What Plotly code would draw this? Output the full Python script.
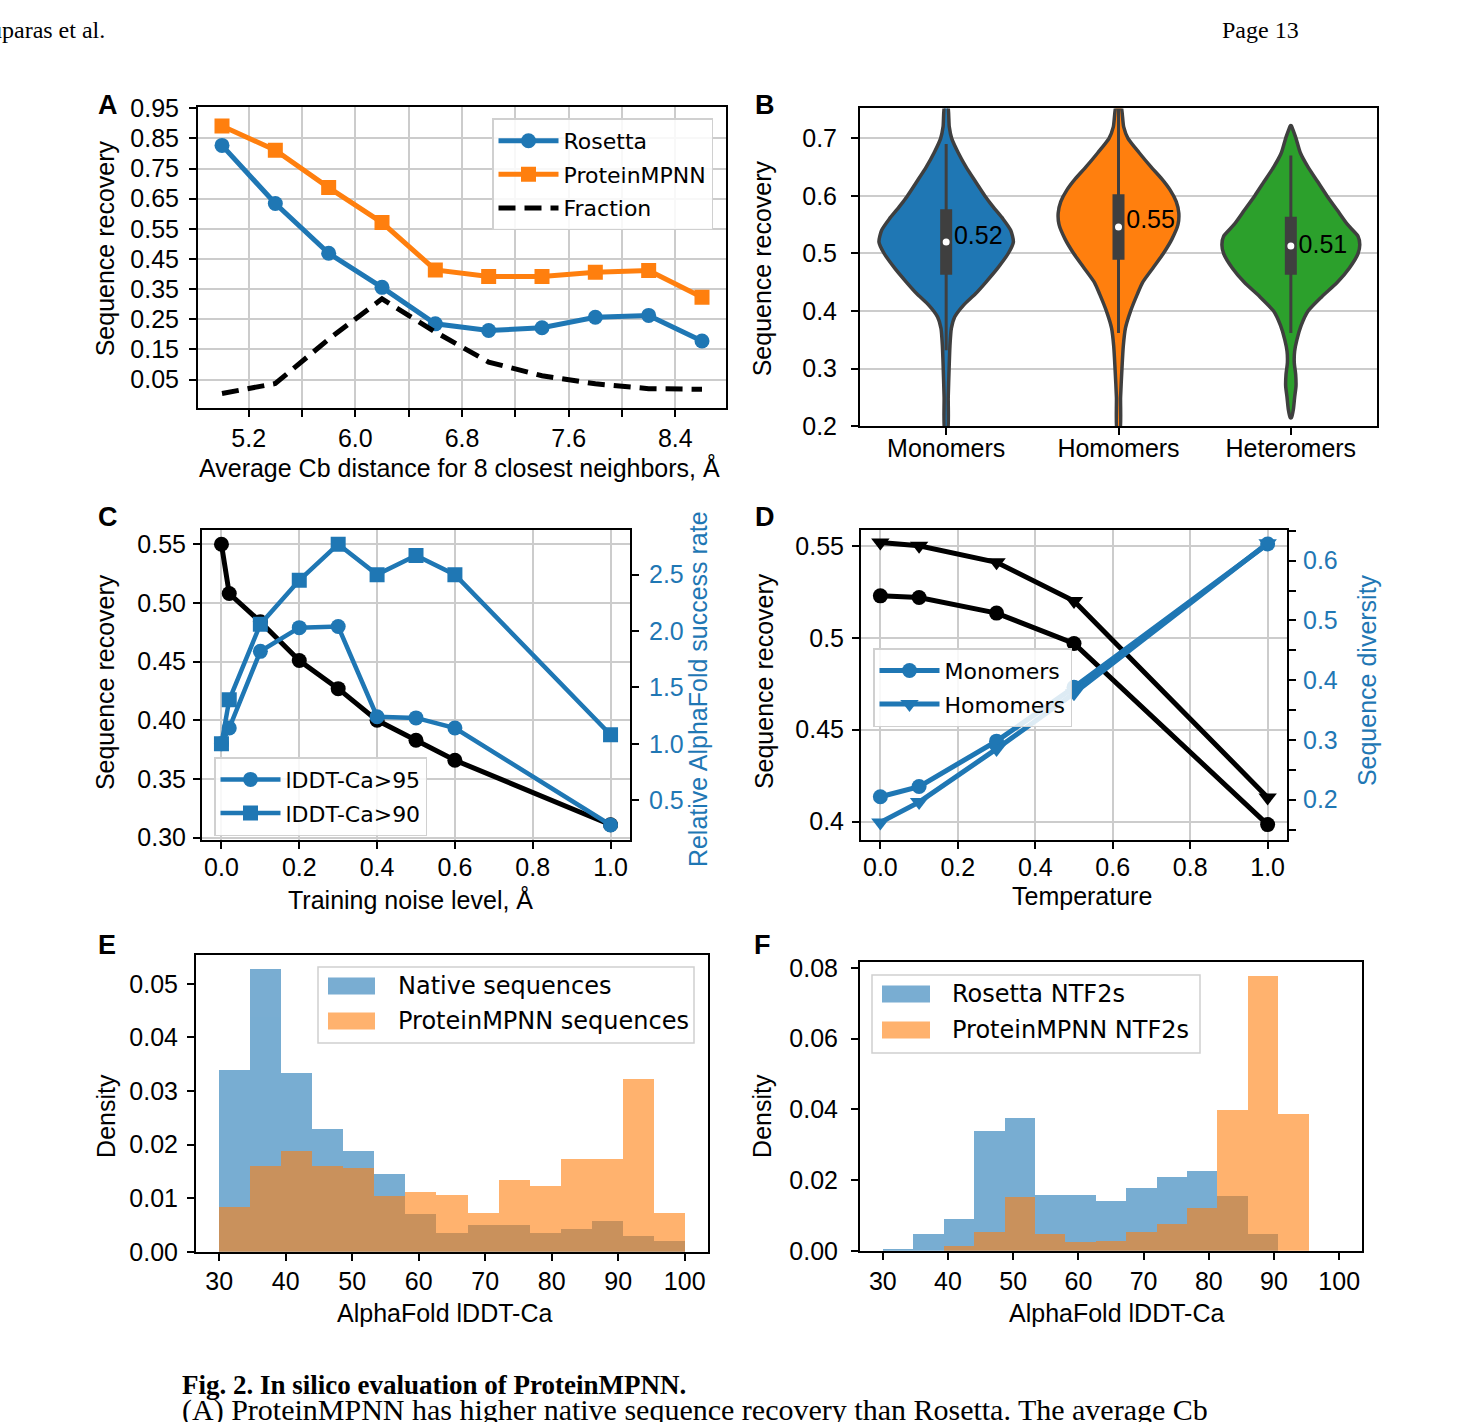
import plotly.graph_objects as go

W, H = 1476, 1422
FONT = "Liberation Sans, Arial, sans-serif"
LEGFONT = "DejaVu Sans, Verdana, sans-serif"
SERIF = "Liberation Serif, Times New Roman, serif"
BLUE = "#1f77b4"
ORANGE = "#ff7f0e"
GREEN = "#2ca02c"
GRID = "#cccccc"

# ---------------- Panel A data ----------------
cb_distance = [5.0, 5.4, 5.8, 6.2, 6.6, 7.0, 7.4, 7.8, 8.2, 8.6]
rosetta_rec = [0.827, 0.634, 0.469, 0.356, 0.235, 0.213, 0.222, 0.257, 0.263, 0.178]
mpnn_rec = [0.891, 0.811, 0.687, 0.571, 0.414, 0.392, 0.392, 0.406, 0.412, 0.323]
fraction = [0.004, 0.037, 0.184, 0.318, 0.208, 0.108, 0.063, 0.036, 0.020, 0.018]
a_xticks = [5.2, 5.6, 6.0, 6.4, 6.8, 7.2, 7.6, 8.0, 8.4]
a_xlabels = ["5.2", "", "6.0", "", "6.8", "", "7.6", "", "8.4"]
a_yticks = [0.05, 0.15, 0.25, 0.35, 0.45, 0.55, 0.65, 0.75, 0.85, 0.95]

# ---------------- Panel B data (violin outlines) ----------------
groups = ["Monomers", "Homomers", "Heteromers"]
group_colors = [BLUE, ORANGE, GREEN]
mono_y = [0.19, 0.25, 0.30, 0.34, 0.37, 0.39, 0.41, 0.43, 0.45, 0.475, 0.50, 0.52, 0.54, 0.56, 0.58, 0.60, 0.625, 0.65, 0.675, 0.70, 0.72, 0.76]
mono_w = [0.008, 0.012, 0.017, 0.022, 0.030, 0.050, 0.100, 0.170, 0.230, 0.300, 0.360, 0.390, 0.375, 0.330, 0.275, 0.225, 0.170, 0.116, 0.070, 0.032, 0.018, 0.008]
homo_y = [0.19, 0.25, 0.30, 0.34, 0.37, 0.40, 0.43, 0.45, 0.475, 0.50, 0.525, 0.55, 0.57, 0.59, 0.61, 0.63, 0.65, 0.675, 0.70, 0.72, 0.76]
homo_w = [0.008, 0.012, 0.020, 0.028, 0.040, 0.070, 0.110, 0.140, 0.200, 0.260, 0.310, 0.345, 0.350, 0.335, 0.300, 0.250, 0.190, 0.120, 0.055, 0.030, 0.012]
hetero_y = [0.215, 0.23, 0.25, 0.27, 0.29, 0.31, 0.33, 0.35, 0.375, 0.40, 0.425, 0.45, 0.475, 0.50, 0.515, 0.53, 0.55, 0.575, 0.60, 0.625, 0.65, 0.675, 0.70, 0.715, 0.722]
hetero_w = [0.004, 0.015, 0.022, 0.030, 0.028, 0.020, 0.022, 0.035, 0.060, 0.100, 0.180, 0.270, 0.340, 0.390, 0.400, 0.390, 0.330, 0.270, 0.210, 0.155, 0.100, 0.055, 0.030, 0.012, 0.003]
q1 = [0.463, 0.489, 0.463]
q3 = [0.577, 0.603, 0.564]
medians = [0.520, 0.546, 0.513]
whisk_lo = [0.332, 0.362, 0.362]
whisk_hi = [0.690, 0.760, 0.670]
median_labels = ["0.52", "0.55", "0.51"]
label_y = [0.527, 0.556, 0.512]

# ---------------- Panel C data ----------------
noise = [0.0, 0.02, 0.1, 0.2, 0.3, 0.4, 0.5, 0.6, 1.0]
rec_noise = [0.550, 0.508, 0.484, 0.451, 0.427, 0.400, 0.383, 0.366, 0.311]
lddt95 = [1.0, 1.14, 1.82, 2.03, 2.04, 1.24, 1.23, 1.14, 0.28]
lddt90 = [1.0, 1.39, 2.06, 2.45, 2.77, 2.50, 2.67, 2.50, 1.08]

# ---------------- Panel D data ----------------
temps = [0.0, 0.1, 0.3, 0.5, 1.0]
rec_mono = [0.5228, 0.5219, 0.5134, 0.4969, 0.3984]
rec_homo = [0.5518, 0.5500, 0.5410, 0.5200, 0.4132]
div_mono = [0.205, 0.222, 0.298, 0.388, 0.628]
div_homo = [0.162, 0.196, 0.285, 0.378, 0.629]
d_rticks = [0.15, 0.2, 0.25, 0.3, 0.35, 0.4, 0.45, 0.5, 0.55, 0.6, 0.65]
d_rlabels = ["", "0.2", "", "0.3", "", "0.4", "", "0.5", "", "0.6", ""]

# ---------------- Panel E / F data (histogram densities) ----------------
bin_edges = [30.0, 34.667, 39.333, 44.0, 48.667, 53.333, 58.0, 62.667, 67.333, 72.0, 76.667, 81.333, 86.0, 90.667, 95.333, 100.0]
native_density = [0.0339, 0.0527, 0.0333, 0.0229, 0.0188, 0.0145, 0.0070, 0.0035, 0.0050, 0.0050, 0.0035, 0.0042, 0.0057, 0.0029, 0.0020]
mpnn_density_e = [0.0084, 0.0161, 0.0189, 0.0161, 0.0157, 0.0105, 0.0111, 0.0106, 0.0072, 0.0135, 0.0123, 0.0173, 0.0173, 0.0322, 0.0073]
rosetta_ntf2 = [0.0006, 0.0048, 0.0090, 0.0340, 0.0375, 0.0159, 0.0157, 0.0140, 0.0177, 0.0210, 0.0227, 0.0154, 0.0048, 0.0, 0.0]
mpnn_ntf2 = [0.0, 0.0, 0.0014, 0.0053, 0.0151, 0.0048, 0.0026, 0.0029, 0.0053, 0.0076, 0.0121, 0.0399, 0.0778, 0.0387, 0.0]
e_names = ["Native sequences", "ProteinMPNN sequences"]
f_names = ["Rosetta NTF2s", "ProteinMPNN NTF2s"]

bin_centers = [(a + b) / 2 for a, b in zip(bin_edges[:-1], bin_edges[1:])]
bin_widths = [b - a for a, b in zip(bin_edges[:-1], bin_edges[1:])]


def px(v):
    return v / W


def ty(v):
    # reference pixel row -> layout pixel row (compensates the page capture offset)
    return 1.01885 * v - 12.79


def py(v):
    return 1 - ty(v) / H


fig = go.Figure()

# ---- A ----
fig.add_trace(go.Scatter(x=cb_distance, y=rosetta_rec, mode="lines+markers", name="Rosetta",
                         line=dict(color=BLUE, width=5), marker=dict(symbol="circle", size=15, color=BLUE),
                         xaxis="x", yaxis="y", legend="legend", legendgroup="a1"))
fig.add_trace(go.Scatter(x=cb_distance, y=mpnn_rec, mode="lines+markers", name="ProteinMPNN",
                         line=dict(color=ORANGE, width=5), marker=dict(symbol="square", size=15, color=ORANGE),
                         xaxis="x", yaxis="y", legend="legend", legendgroup="a2"))
fig.add_trace(go.Scatter(x=cb_distance, y=fraction, mode="lines", name="Fraction",
                         line=dict(color="black", width=5, dash="17px,9px"),
                         xaxis="x", yaxis="y", legend="legend", legendgroup="a3"))

# ---- B ----
profiles = [(mono_y, mono_w), (homo_y, homo_w), (hetero_y, hetero_w)]
for i, (yy, ww) in enumerate(profiles):
    xs = [i + w for w in ww] + [i - w for w in reversed(ww)] + [i + ww[0]]
    ys = list(yy) + list(reversed(yy)) + [yy[0]]
    fig.add_trace(go.Scatter(x=xs, y=ys, mode="lines", fill="toself", fillcolor=group_colors[i],
                             line=dict(color="#3f3f3f", width=3.5, shape="spline", smoothing=0.6),
                             xaxis="x2", yaxis="y2", showlegend=False, hoverinfo="skip"))
    fig.add_trace(go.Scatter(x=[i, i], y=[whisk_lo[i], whisk_hi[i]], mode="lines",
                             line=dict(color="#3f3f3f", width=3), xaxis="x2", yaxis="y2", showlegend=False))
    fig.add_trace(go.Scatter(x=[i, i], y=[q1[i], q3[i]], mode="lines",
                             line=dict(color="#3f3f3f", width=12), xaxis="x2", yaxis="y2", showlegend=False))
    fig.add_trace(go.Scatter(x=[i], y=[medians[i]], mode="markers",
                             marker=dict(color="white", size=7), xaxis="x2", yaxis="y2", showlegend=False))
    fig.add_trace(go.Scatter(x=[i + 0.045], y=[label_y[i]], mode="text", text=[median_labels[i]],
                             textposition="middle right", textfont=dict(family=FONT, size=25, color="black"),
                             xaxis="x2", yaxis="y2", showlegend=False))

# ---- C ----
fig.add_trace(go.Scatter(x=noise, y=rec_noise, mode="lines+markers", line=dict(color="black", width=5),
                         marker=dict(symbol="circle", size=15, color="black"), xaxis="x3", yaxis="y3",
                         showlegend=False))
fig.add_trace(go.Scatter(x=noise, y=lddt95, mode="lines+markers", name="lDDT-Ca>95",
                         line=dict(color=BLUE, width=4.5), marker=dict(symbol="circle", size=15, color=BLUE),
                         xaxis="x3", yaxis="y4", legend="legend2", legendgroup="c1"))
fig.add_trace(go.Scatter(x=noise, y=lddt90, mode="lines+markers", name="lDDT-Ca>90",
                         line=dict(color=BLUE, width=4.5), marker=dict(symbol="square", size=15, color=BLUE),
                         xaxis="x3", yaxis="y4", legend="legend2", legendgroup="c2"))

# ---- D ----
fig.add_trace(go.Scatter(x=temps, y=rec_mono, mode="lines+markers", line=dict(color="black", width=5),
                         marker=dict(symbol="circle", size=15, color="black"), xaxis="x4", yaxis="y5",
                         showlegend=False))
fig.add_trace(go.Scatter(x=temps, y=rec_homo, mode="lines+markers", line=dict(color="black", width=5),
                         marker=dict(symbol="triangle-down", size=16, color="black"), xaxis="x4", yaxis="y5",
                         showlegend=False))
fig.add_trace(go.Scatter(x=temps, y=div_mono, mode="lines+markers", name="Monomers",
                         line=dict(color=BLUE, width=5), marker=dict(symbol="circle", size=15, color=BLUE),
                         xaxis="x4", yaxis="y6", legend="legend3", legendgroup="d1"))
fig.add_trace(go.Scatter(x=temps, y=div_homo, mode="lines+markers", name="Homomers",
                         line=dict(color=BLUE, width=5), marker=dict(symbol="triangle-down", size=16, color=BLUE),
                         xaxis="x4", yaxis="y6", legend="legend3", legendgroup="d2"))

# ---- E ----
fig.add_trace(go.Bar(x=bin_centers, y=native_density, width=bin_widths, name=e_names[0],
                     marker=dict(color=BLUE, line=dict(width=0)), opacity=0.6,
                     xaxis="x5", yaxis="y7", showlegend=False))
fig.add_trace(go.Bar(x=bin_centers, y=mpnn_density_e, width=bin_widths, name=e_names[1],
                     marker=dict(color=ORANGE, line=dict(width=0)), opacity=0.6,
                     xaxis="x5", yaxis="y7", showlegend=False))

# ---- F ----
fig.add_trace(go.Bar(x=bin_centers, y=rosetta_ntf2, width=bin_widths, name=f_names[0],
                     marker=dict(color=BLUE, line=dict(width=0)), opacity=0.6,
                     xaxis="x6", yaxis="y8", showlegend=False))
fig.add_trace(go.Bar(x=bin_centers, y=mpnn_ntf2, width=bin_widths, name=f_names[1],
                     marker=dict(color=ORANGE, line=dict(width=0)), opacity=0.6,
                     xaxis="x6", yaxis="y8", showlegend=False))


def axis(domain, anchor, **kw):
    base = dict(domain=domain, anchor=anchor, showline=True, linecolor="black", linewidth=2, mirror=True,
                ticks="outside", ticklen=7, tickwidth=2, tickcolor="black",
                tickfont=dict(family=FONT, size=25, color="black"), zeroline=False,
                showgrid=False, gridcolor=GRID, gridwidth=1.5)
    base.update(kw)
    return base


A_X = [px(198), px(726)]
A_Y = [py(408), py(107)]
B_X = [px(860), px(1377)]
B_Y = [py(426), py(108)]
C_X = [px(202), px(630)]
CD_Y = [py(840), py(530)]
D_X = [px(861), px(1287)]
E_X = [px(196), px(708)]
E_Y = [py(1252), py(955)]
F_X = [px(860), px(1362)]
F_Y = [py(1251), py(962)]

legend_common = dict(bgcolor="rgba(255,255,255,0.85)", bordercolor="#d0d0d0", borderwidth=1.5,
                     font=dict(family=LEGFONT, size=22, color="black"), tracegroupgap=2,
                     xanchor="left", yanchor="top", itemwidth=60)

fig.update_layout(
    width=W, height=H, margin=dict(l=0, r=0, t=0, b=0), paper_bgcolor="white", plot_bgcolor="white",
    barmode="overlay", bargap=0,
    xaxis=axis(A_X, "y", range=[4.82, 8.78], tickvals=a_xticks, ticktext=a_xlabels, showgrid=True),
    yaxis=axis(A_Y, "x", range=[-0.045, 0.953], tickvals=a_yticks, ticktext=[f"{v:.2f}" for v in a_yticks],
               showgrid=True, ticklabelstandoff=5),
    xaxis2=axis(B_X, "y2", range=[-0.5, 2.5], tickvals=[0, 1, 2], ticktext=groups, ticklabelstandoff=-8),
    yaxis2=axis(B_Y, "x2", range=[0.2, 0.752], tickvals=[0.2, 0.3, 0.4, 0.5, 0.6, 0.7],
                ticktext=["0.2", "0.3", "0.4", "0.5", "0.6", "0.7"], showgrid=True, ticklabelstandoff=9),
    xaxis3=axis(C_X, "y3", range=[-0.05, 1.05], tickvals=[0, 0.2, 0.4, 0.6, 0.8, 1.0],
                ticktext=["0.0", "0.2", "0.4", "0.6", "0.8", "1.0"], showgrid=True, ticklabelstandoff=-3),
    yaxis3=axis(CD_Y, "x3", range=[0.298, 0.562], tickvals=[0.30, 0.35, 0.40, 0.45, 0.50, 0.55],
                ticktext=["0.30", "0.35", "0.40", "0.45", "0.50", "0.55"], showgrid=True, ticklabelstandoff=2),
    yaxis4=axis(CD_Y, "x3", overlaying="y3", side="right", range=[0.147, 2.894],
                tickvals=[0.5, 1.0, 1.5, 2.0, 2.5], ticktext=["0.5", "1.0", "1.5", "2.0", "2.5"],
                mirror=False, tickfont=dict(family=FONT, size=25, color=BLUE), ticklabelstandoff=5),
    xaxis4=axis(D_X, "y5", range=[-0.05, 1.05], tickvals=[0, 0.2, 0.4, 0.6, 0.8, 1.0],
                ticktext=["0.0", "0.2", "0.4", "0.6", "0.8", "1.0"], showgrid=True, ticklabelstandoff=-3),
    yaxis5=axis(CD_Y, "x4", range=[0.390, 0.5585], tickvals=[0.40, 0.45, 0.50, 0.55],
                ticktext=["0.4", "0.45", "0.5", "0.55"], showgrid=True, ticklabelstandoff=3),
    yaxis6=axis(CD_Y, "x4", overlaying="y5", side="right", range=[0.1325, 0.651],
                tickvals=d_rticks, ticktext=d_rlabels, mirror=False,
                tickfont=dict(family=FONT, size=25, color=BLUE), ticklabelstandoff=2),
    xaxis5=axis(E_X, "y7", range=[26.5, 103.5], tickvals=[30, 40, 50, 60, 70, 80, 90, 100],
                ticklabelstandoff=-1),
    yaxis7=axis(E_Y, "x5", range=[0, 0.0554], tickvals=[0, 0.01, 0.02, 0.03, 0.04, 0.05],
                ticktext=["0.00", "0.01", "0.02", "0.03", "0.04", "0.05"], ticklabelstandoff=4),
    xaxis6=axis(F_X, "y8", range=[26.5, 103.5], tickvals=[30, 40, 50, 60, 70, 80, 90, 100]),
    yaxis8=axis(F_Y, "x6", range=[0, 0.0817], tickvals=[0, 0.02, 0.04, 0.06, 0.08],
                ticktext=["0.00", "0.02", "0.04", "0.06", "0.08"], ticklabelstandoff=8),
    legend=dict(legend_common, x=px(492), y=py(118)),
    legend2=dict(legend_common, x=px(214), y=py(757)),
    legend3=dict(legend_common, x=px(873), y=py(648)),
    showlegend=True,
)


def label(text, x, y, size=25, angle=0, color="black", family=FONT, bold=False, xanchor="center"):
    if bold:
        text = f"<b>{text}</b>"
    fig.add_annotation(text=text, x=px(x), y=py(y), xref="paper", yref="paper", showarrow=False,
                       textangle=angle, xanchor=xanchor, yanchor="middle",
                       font=dict(family=family, size=size, color=color))


# histogram legends drawn as boxes with colour patches (matplotlib-style wide patches)
def patch_legend(box, rows, names, colors):
    x0, y0, x1, y1 = box
    fig.add_shape(type="rect", xref="paper", yref="paper", x0=px(x0), x1=px(x1), y0=py(y1), y1=py(y0),
                  line=dict(color="#d0d0d0", width=1.5), fillcolor="rgba(255,255,255,0.85)", layer="above")
    for (yc, px0, px1, tx), name, col in zip(rows, names, colors):
        fig.add_shape(type="rect", xref="paper", yref="paper", x0=px(px0), x1=px(px1),
                      y0=py(yc + 8.5), y1=py(yc - 8.5), line=dict(width=0), fillcolor=col, opacity=0.6,
                      layer="above")
        label(name, tx, yc, size=24, family=LEGFONT, xanchor="left")


patch_legend((318, 967, 694, 1043), [(986, 328, 375, 396), (1021, 328, 375, 396)], e_names, [BLUE, ORANGE])
patch_legend((872, 975, 1200, 1053), [(994, 882, 930, 950), (1030, 882, 930, 950)], f_names, [BLUE, ORANGE])

# panel letters
for t, x, y in [("A", 108, 105), ("B", 765, 105), ("C", 108, 517), ("D", 765, 517), ("E", 107, 945), ("F", 763, 945)]:
    label(t, x, y, size=27, bold=True)

# axis titles
label("Sequence recovery", 105, 248, angle=-90)
label("Average Cb distance for 8 closest neighbors, Å", 459, 467)
label("Sequence recovery", 762, 268, angle=-90)
label("Sequence recovery", 105, 682, angle=-90)
label("Training noise level, Å", 410, 899)
label("Relative AlphaFold success rate", 698, 689, angle=-90, color=BLUE)
label("Sequence recovery", 764, 681, angle=-90)
label("Temperature", 1082, 896)
label("Sequence diversity", 1367, 680, angle=-90, color=BLUE)
label("Density", 106, 1116, angle=-90)
label("AlphaFold lDDT-Ca", 444, 1313)
label("Density", 762, 1116, angle=-90)
label("AlphaFold lDDT-Ca", 1116, 1313)

# page header and caption
label("Dauparas et al.", 107, 30, size=24, family=SERIF, xanchor="right")
label("Page 13", 1220, 30, size=24, family=SERIF, xanchor="left")
label("Fig. 2. In silico evaluation of ProteinMPNN.", 180, 1385, size=27, family=SERIF, bold=True, xanchor="left")
fig.add_annotation(text="(A) ProteinMPNN has higher native sequence recovery than Rosetta. The average Cb",
                   x=px(180), y=1 - 1424 / H, xref="paper", yref="paper", showarrow=False,
                   xanchor="left", yanchor="middle", font=dict(family=SERIF, size=30, color="black"))

fig.write_html("out.html")
